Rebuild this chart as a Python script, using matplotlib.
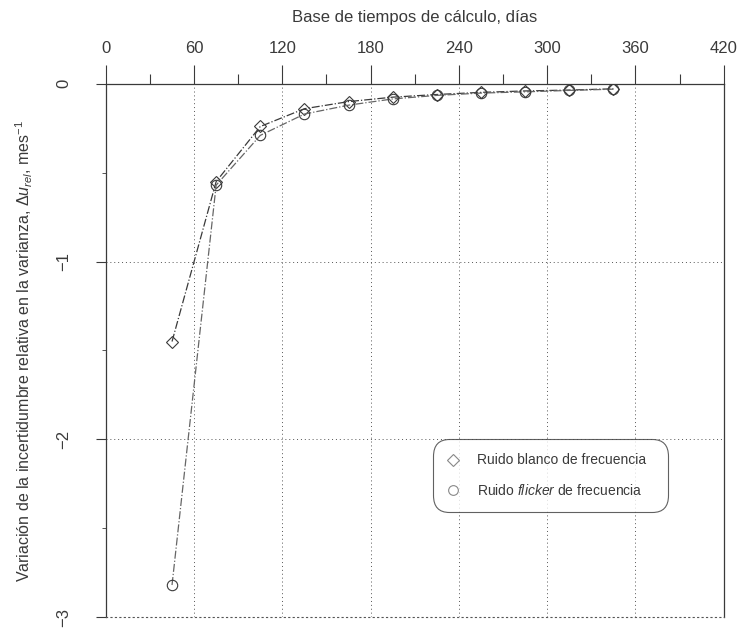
import numpy as np
import matplotlib
matplotlib.use('Agg')
import matplotlib.pyplot as plt
from matplotlib.ticker import MultipleLocator

plt.rcParams['font.family'] = ['Liberation Sans', 'DejaVu Sans']
plt.rcParams['mathtext.fontset'] = 'custom'
plt.rcParams['mathtext.rm'] = 'Liberation Sans'
plt.rcParams['mathtext.it'] = 'Liberation Sans:italic'

dias = [45, 75, 105, 135, 165, 195, 225, 255, 285, 315, 345]
ruido_blanco = [-1.45, -0.55, -0.24, -0.14, -0.10, -0.075, -0.06, -0.048, -0.04, -0.035, -0.028]
ruido_flicker = [-2.82, -0.57, -0.29, -0.17, -0.12, -0.085, -0.065, -0.052, -0.045, -0.037, -0.03]

gris = '#3a3a3a'

fig = plt.figure(figsize=(7.40, 6.28), dpi=100)
ax = fig.add_axes([0.143, 0.0175, 0.835, 0.849])

ax.plot(dias, ruido_blanco, '-.', color=gris, lw=0.9, marker='D', ms=6.5,
        mfc='none', mec=gris, mew=0.8)
ax.plot(dias, ruido_flicker, '-.', color='#666666', lw=0.9, marker='o', ms=7.5,
        mfc='none', mec=gris, mew=0.8)

# solo marcadores en la leyenda
h1, = ax.plot([], [], ls='none', marker='D', ms=6, mfc='none', mec='#888888', mew=0.8)
h2, = ax.plot([], [], ls='none', marker='o', ms=7, mfc='none', mec='#888888', mew=0.8)

ax.set_xlim(0, 420)
ax.set_ylim(-3, 0)
ax.xaxis.tick_top()
ax.xaxis.set_label_position('top')
ax.set_xticks(np.arange(0, 421, 60))
ax.xaxis.set_minor_locator(MultipleLocator(30))
ax.set_yticks([0, -1, -2, -3])
ax.yaxis.set_minor_locator(MultipleLocator(0.5))

ax.tick_params(axis='x', which='major', direction='out', length=14, width=0.8,
               color=gris, labelsize=12, labelcolor=gris, pad=6)
ax.tick_params(axis='x', which='minor', direction='out', length=7, width=0.8, color=gris)
ax.tick_params(axis='y', which='major', direction='out', length=7, width=0.8,
               color=gris, labelsize=12, labelcolor=gris, pad=18, labelrotation=90)
ax.tick_params(axis='y', which='minor', direction='out', length=3, width=0.6, color=gris)
for t in ax.get_yticklabels():
    t.set_va('center')

ax.grid(True, which='major', ls=(0, (1, 3)), color='#555555', lw=0.7)

for s in ['top', 'left', 'right']:
    ax.spines[s].set_color(gris)
    ax.spines[s].set_linewidth(0.9)
ax.spines['bottom'].set_linestyle((0, (1, 3)))
ax.spines['bottom'].set_color('#555555')

ax.set_xlabel('Base de tiempos de cálculo, días', fontsize=12, color=gris, labelpad=14)
ax.set_ylabel('Variación de la incertidumbre relativa en la varianza, $\\Delta u_{rel}$, mes$^{-1}$',
              fontsize=11.5, color=gris, labelpad=15)

leg = ax.legend([h1, h2], ['Ruido blanco de frecuencia', 'Ruido $\\it{flicker}$ de frecuencia'],
                loc='lower left', bbox_to_anchor=(0.522, 0.19, 0.395, 0.125), mode='expand',
                fontsize=10, frameon=True, fancybox=True, handlelength=1.0,
                handletextpad=1.2, labelspacing=1.1, borderpad=0.8, labelcolor=gris)
frame = leg.get_frame()
frame.set_edgecolor(gris)
frame.set_linewidth(0.8)
frame.set_boxstyle('round,pad=0.2,rounding_size=1.2')

fig.savefig('out.png', dpi=100)
